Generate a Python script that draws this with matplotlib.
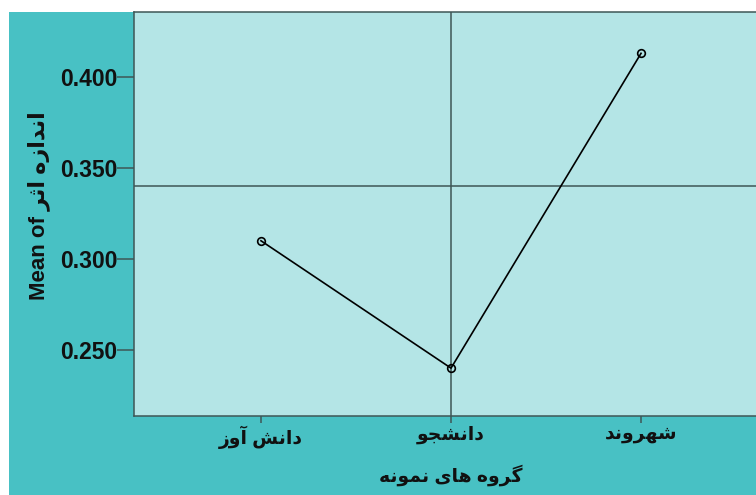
import matplotlib.pyplot as plt
from matplotlib.patches import Rectangle

groups = ["دانش آوز", "دانشجو", "شهروند"]
means = [0.310, 0.240, 0.413]
y_ticks = [0.250, 0.300, 0.350, 0.400]
ref_y = 0.340
ref_group = 1
x_title = "گروه های نمونه"
y_title_ar = "اندازه اثر"

# matplotlib has no arabic shaping, so pick the presentation forms by hand
# forms: isolated, final, initial, medial
FORMS = {
    "ا": ("\uFE8D", "\uFE8E", None, None),
    "آ": ("\uFE81", "\uFE82", None, None),
    "د": ("\uFEA9", "\uFEAA", None, None),
    "ذ": ("\uFEAB", "\uFEAC", None, None),
    "ر": ("\uFEAD", "\uFEAE", None, None),
    "ز": ("\uFEAF", "\uFEB0", None, None),
    "و": ("\uFEED", "\uFEEE", None, None),
    "ث": ("\uFE99", "\uFE9A", "\uFE9B", "\uFE9C"),
    "ج": ("\uFE9D", "\uFE9E", "\uFE9F", "\uFEA0"),
    "ش": ("\uFEB5", "\uFEB6", "\uFEB7", "\uFEB8"),
    "م": ("\uFEE1", "\uFEE2", "\uFEE3", "\uFEE4"),
    "ن": ("\uFEE5", "\uFEE6", "\uFEE7", "\uFEE8"),
    "ه": ("\uFEE9", "\uFEEA", "\uFEEB", "\uFEEC"),
    "ی": ("\uFBFC", "\uFBFD", "\uFBFE", "\uFBFF"),
    "گ": ("\uFB92", "\uFB93", "\uFB94", "\uFB95"),
}


def shape(text):
    out = []
    for i, ch in enumerate(text):
        if ch not in FORMS:
            out.append(ch)
            continue
        prev = text[i - 1] if i > 0 else " "
        nxt = text[i + 1] if i + 1 < len(text) else " "
        join_prev = prev in FORMS and FORMS[prev][2] is not None
        join_next = nxt in FORMS and FORMS[ch][2] is not None
        iso, fin, ini, med = FORMS[ch]
        if join_prev and join_next:
            out.append(med)
        elif join_prev:
            out.append(fin)
        elif join_next:
            out.append(ini)
        else:
            out.append(iso)
    return "".join(out)[::-1]


plt.rcParams["font.family"] = ["Liberation Sans", "DejaVu Sans"]
plt.rcParams["font.weight"] = "bold"

fig = plt.figure(figsize=(7.56, 4.95), dpi=100, facecolor="white")
fig.patches.append(Rectangle((9 / 756, 0), 1, 483 / 495, transform=fig.transFigure,
                             facecolor="#48C1C4", edgecolor="none", zorder=-10))

ax = fig.add_axes([134 / 756, 79 / 495, (768 - 134) / 756, 404 / 495])
ax.set_zorder(5)
ax.set_facecolor("#B4E5E6")

labels = [shape(g) for g in groups]
xs = list(range(len(groups)))
ax.plot(xs, means, color="black", lw=1.2, marker="o", ms=5.5,
        mfc="none", mec="black", mew=1.2, zorder=3)
ax.axhline(ref_y, color="#3E5656", lw=1.1, zorder=2)
ax.axvline(ref_group, color="#3E5656", lw=1.1, zorder=2)

ax.set_xlim(-0.668, 2.668)
ax.set_ylim(0.2137, 0.4357)
ax.set_xticks(xs)
ax.set_xticklabels(labels, fontsize=13.5, fontweight="bold", color="#111111")
ax.set_yticks(y_ticks)
ax.set_yticklabels(["%.3f" % v for v in y_ticks], fontsize=16.5,
                   fontweight="bold", color="#111111")

for s in ax.spines.values():
    s.set_color("#3E5656")
    s.set_linewidth(1.1)
ax.tick_params(axis="x", direction="out", length=5, width=1.1,
               color="#3E5656", pad=2)
ax.tick_params(axis="y", direction="out", length=12, width=1.1,
               color="#3E5656", pad=0)

ax.set_xlabel(shape(x_title), fontsize=13.5, fontweight="bold", labelpad=11,
              color="#111111")
ax.set_ylabel("Mean of " + shape(y_title_ar), fontsize=16, fontweight="bold",
              color="#111111")
ax.yaxis.set_label_coords(-0.133, 0.52)

fig.savefig("out.png", dpi=100, facecolor="white")
